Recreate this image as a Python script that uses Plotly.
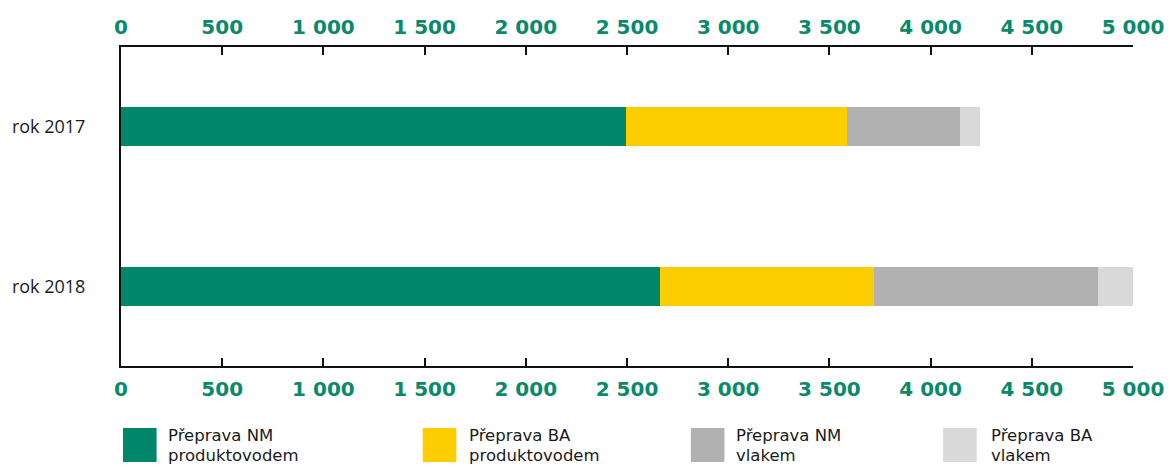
import plotly.graph_objects as go

categories = ["rok 2017", "rok 2018"]
series_names = [["Přeprava NM", "produktovodem"], ["Přeprava BA", "produktovodem"],
                ["Přeprava NM", "vlakem"], ["Přeprava BA", "vlakem"]]
nm_produktovod = [2496, 2661]
ba_produktovod = [1089, 1060]
nm_vlak = [562, 1104]
ba_vlak = [98, 190]
tick_vals = [0, 500, 1000, 1500, 2000, 2500, 3000, 3500, 4000, 4500, 5000]
tick_text = ["0", "500", "1 000", "1 500", "2 000", "2 500", "3 000", "3 500", "4 000", "4 500", "5 000"]

colors = ["#00876A", "#FDCD00", "#B0B1B0", "#D9D9D9"]
values = [nm_produktovod, ba_produktovod, nm_vlak, ba_vlak]

W, H = 1176, 466
L, R, T, B = 119, 34, 47, 100
pw, ph = W - L - R, H - T - B

def px(x):
    return (x - L) / pw

def py(y):
    return (H - B - y) / ph

fig = go.Figure()
for name, vals, col in zip(series_names, values, colors):
    fig.add_trace(go.Bar(y=categories, x=vals, name=" ".join(name), orientation="h",
                         marker=dict(color=col, line=dict(width=0)),
                         width=0.245, cliponaxis=False, showlegend=False))

# invisible trace to activate the top axis
fig.add_trace(go.Scatter(x=[0], y=[categories[0]], xaxis="x2", mode="markers",
                         marker=dict(opacity=0), showlegend=False, hoverinfo="skip"))

tickfont = dict(family="DejaVu Sans", size=20, color="#0A8A6A", weight="bold")
axis_common = dict(range=[0, 5000], tickvals=tick_vals, ticktext=tick_text,
                   showline=True, linecolor="#111", linewidth=2,
                   ticks="inside", ticklen=8, tickwidth=2, tickcolor="#111",
                   showgrid=False, zeroline=False, tickfont=tickfont, fixedrange=True)

fig.update_layout(
    width=W, height=H, autosize=False,
    margin=dict(l=L, r=R, t=T, b=B),
    paper_bgcolor="white", plot_bgcolor="white",
    barmode="stack", bargap=0,
    xaxis=dict(side="bottom", ticklabelstandoff=4, **axis_common),
    xaxis2=dict(side="top", overlaying="x", ticklabelstandoff=3, **axis_common),
    yaxis=dict(categoryorder="array", categoryarray=categories, range=[1.5, -0.5],
               showline=True, linecolor="#111", linewidth=2, ticks="",
               showgrid=False, zeroline=False, ticklabelstandoff=30,
               tickfont=dict(family="Open Sans", size=18, color="#1a1a1a")),
    showlegend=False,
)

# custom legend with large swatches
sw_x = [121, 424, 695, 950]
txt_x = [166, 470, 740, 997]
for name, col, sx, tx in zip(series_names, colors, sw_x, txt_x):
    fig.add_shape(type="rect", xref="paper", yref="paper",
                  x0=px(sx), x1=px(sx + 34), y0=py(462), y1=py(428),
                  fillcolor=col, line=dict(width=0))
    for line, yc in zip(name, [435.8, 455.5]):
        fig.add_annotation(xref="paper", yref="paper", x=px(tx), y=py(yc),
                           text=line, showarrow=False, xanchor="left", yanchor="middle",
                           align="left", borderpad=0,
                           font=dict(family="DejaVu Sans", size=16.5, color="#1a1a1a"))

fig.write_html("out.html", config={"displayModeBar": False, "responsive": False},
               post_script="document.body.style.margin='0';"
                           "document.documentElement.style.overflow='hidden';"
                           "document.body.style.overflow='hidden';")
